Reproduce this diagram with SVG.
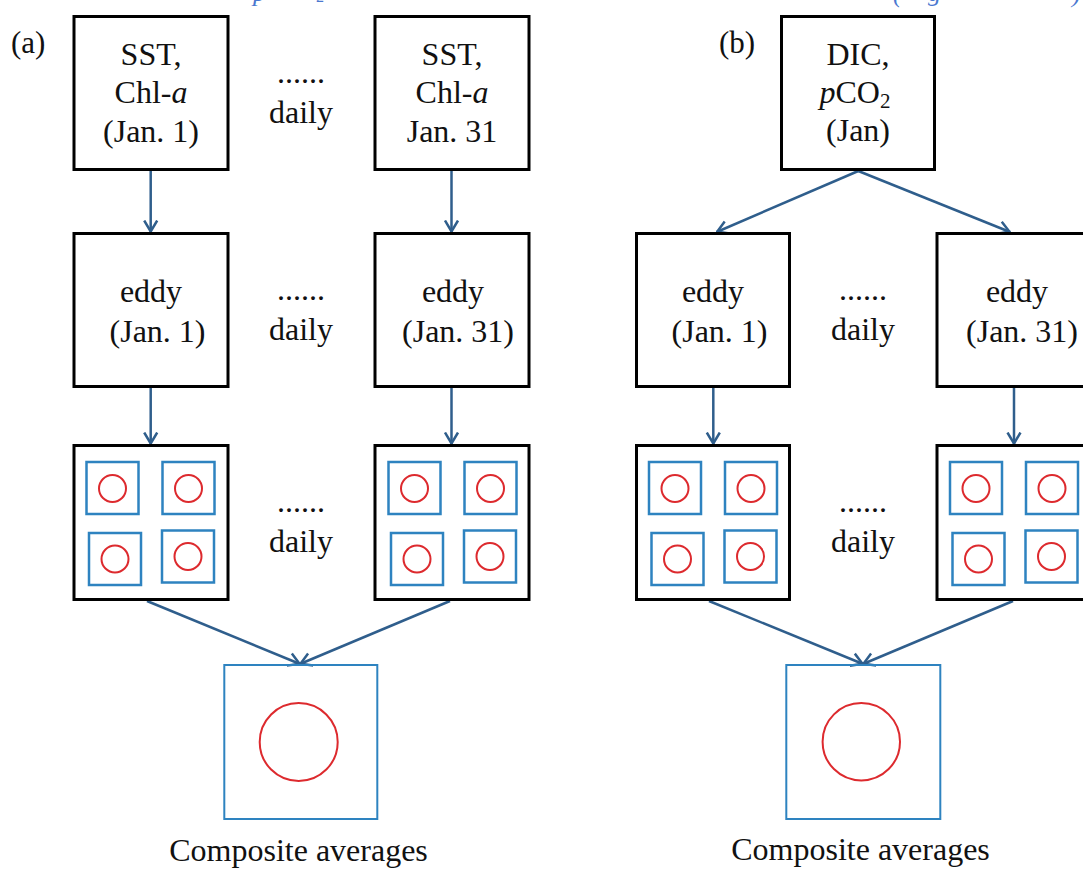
<svg xmlns="http://www.w3.org/2000/svg" xmlns:xlink="http://www.w3.org/1999/xlink" width="1083" height="869" viewBox="0 0 1083 869" font-family="'Liberation Serif', 'Times New Roman', Tinos, 'DejaVu Serif', serif">
<style>
.box{fill:#fff;stroke:#000;stroke-width:3}
.sq{fill:none;stroke:#2E83C0;stroke-width:2.5}
.cir{fill:none;stroke:#DD2A2E;stroke-width:2}
.comp{fill:none;stroke:#2E83C0;stroke-width:2}
text{font-family:'Liberation Serif','Times New Roman',Tinos,'DejaVu Serif',serif}
.t{font-size:32px;fill:#111;text-anchor:middle}
.lbl{font-size:31px;fill:#111}
.cap{font-size:26px;fill:#4A78D0;font-style:italic}
.conn line{stroke:#2F5E8C;stroke-width:2.5;marker-end:url(#ah)}
</style>
<defs>
<marker id="ah" viewBox="0 0 13 16" refX="12.5" refY="8" markerWidth="13" markerHeight="16" markerUnits="userSpaceOnUse" orient="auto">
<path d="M1,1.5 L12,8 L1,14.5" fill="none" stroke="#2F5E8C" stroke-width="2.5"/>
</marker>
<g id="grid">
<rect class="sq" x="14" y="18" width="52" height="52"/>
<circle class="cir" cx="40" cy="44.5" r="13.5"/>
<rect class="sq" x="90" y="18" width="52" height="52"/>
<circle class="cir" cx="116" cy="44.5" r="13.5"/>
<rect class="sq" x="16.5" y="89" width="52" height="52"/>
<circle class="cir" cx="42.5" cy="115" r="13.5"/>
<rect class="sq" x="89.5" y="86.5" width="52" height="52"/>
<circle class="cir" cx="115.5" cy="112.5" r="13.5"/>
</g>
</defs>
<rect width="1083" height="869" fill="#fff"/>

<g id="caption-fragments">
<text class="cap" x="253" y="1">p</text>
<text class="cap" x="316" y="2" style="font-size:16px;font-style:normal">2</text>
<text class="cap" x="893" y="2">(</text>
<text class="cap" x="928" y="0.5">g</text>
<text class="cap" x="1072" y="2">)</text>
</g>

<g id="connectors" class="conn">
<line x1="150.7" y1="171" x2="150.7" y2="232"/>
<line x1="451.5" y1="171" x2="451.5" y2="232"/>
<line x1="150.7" y1="388" x2="150.7" y2="444"/>
<line x1="451.5" y1="388" x2="451.5" y2="444"/>
<line x1="147" y1="601" x2="300" y2="664"/>
<line x1="450" y1="601" x2="300" y2="664"/>
<line x1="858.3" y1="171" x2="716.7" y2="232"/>
<line x1="858.3" y1="171" x2="1010" y2="232"/>
<line x1="713.3" y1="388" x2="713.3" y2="444"/>
<line x1="1014" y1="388" x2="1014" y2="444"/>
<line x1="709" y1="601" x2="863" y2="664"/>
<line x1="1013" y1="601" x2="863" y2="664"/>
</g>

<g id="panel-a-label"><text class="lbl" x="11" y="53">(a)</text></g>
<g id="panel-b-label"><text class="lbl" x="719" y="53">(b)</text></g>

<g id="a-input-jan1">
<rect class="box" x="74" y="16.5" width="154" height="153"/>
<text class="t" x="151" y="65">SST,</text>
<text class="t" x="151" y="103">Chl-<tspan font-style="italic">a</tspan></text>
<text class="t" x="151" y="141.5">(Jan. 1)</text>
</g>
<g id="a-input-jan31">
<rect class="box" x="375" y="16.5" width="154" height="153"/>
<text class="t" x="452" y="65">SST,</text>
<text class="t" x="452" y="103">Chl-<tspan font-style="italic">a</tspan></text>
<text class="t" x="452" y="141.5">Jan. 31</text>
</g>
<g id="a-daily-1">
<text class="t" x="301" y="83">......</text>
<text class="t" x="301" y="122.5">daily</text>
</g>

<g id="a-eddy-jan1">
<rect class="box" x="74" y="233.5" width="154" height="153"/>
<text class="t" x="151" y="301.5">eddy</text>
<text class="t" x="157.5" y="341.5">(Jan. 1)</text>
</g>
<g id="a-eddy-jan31">
<rect class="box" x="375" y="233.5" width="154" height="153"/>
<text class="t" x="453" y="301.5">eddy</text>
<text class="t" x="458" y="341.5">(Jan. 31)</text>
</g>
<g id="a-daily-2">
<text class="t" x="301" y="300">......</text>
<text class="t" x="301" y="340">daily</text>
</g>

<g id="a-grid-jan1">
<rect class="box" x="74" y="445.5" width="154" height="154"/>
<use xlink:href="#grid" x="72.5" y="444"/>
</g>
<g id="a-grid-jan31">
<rect class="box" x="375" y="445.5" width="154" height="154"/>
<use xlink:href="#grid" x="374.5" y="444"/>
</g>
<g id="a-daily-3">
<text class="t" x="301" y="512">......</text>
<text class="t" x="301" y="552">daily</text>
</g>

<g id="a-composite">
<rect class="comp" x="224.3" y="665" width="153" height="154"/>
<circle class="cir" cx="298.7" cy="742" r="39"/>
<text class="t" x="298.5" y="861">Composite averages</text>
</g>

<g id="b-input-jan">
<rect class="box" x="781.5" y="16.5" width="153" height="153"/>
<text class="t" x="858" y="65">DIC,</text>
<text class="t" x="855" y="102.5"><tspan font-style="italic">p</tspan>CO<tspan font-size="21" dy="5">2</tspan></text>
<text class="t" x="858" y="140.5">(Jan)</text>
</g>

<g id="b-eddy-jan1">
<rect class="box" x="636.5" y="233.5" width="153" height="153"/>
<text class="t" x="713" y="301.5">eddy</text>
<text class="t" x="719.5" y="341.5">(Jan. 1)</text>
</g>
<g id="b-eddy-jan31">
<rect class="box" x="937" y="233.5" width="154" height="153"/>
<text class="t" x="1017" y="301.5">eddy</text>
<text class="t" x="1022" y="341.5">(Jan. 31)</text>
</g>
<g id="b-daily-2">
<text class="t" x="863" y="300">......</text>
<text class="t" x="863" y="340">daily</text>
</g>

<g id="b-grid-jan1">
<rect class="box" x="636.5" y="445.5" width="153" height="154"/>
<use xlink:href="#grid" x="635" y="444"/>
</g>
<g id="b-grid-jan31">
<rect class="box" x="937" y="445.5" width="154" height="154"/>
<use xlink:href="#grid" x="936" y="444"/>
</g>
<g id="b-daily-3">
<text class="t" x="863" y="512">......</text>
<text class="t" x="863" y="552">daily</text>
</g>

<g id="b-composite">
<rect class="comp" x="786.3" y="665" width="154" height="154"/>
<circle class="cir" cx="861.3" cy="741.7" r="38.7"/>
<text class="t" x="860.5" y="860">Composite averages</text>
</g>
</svg>
